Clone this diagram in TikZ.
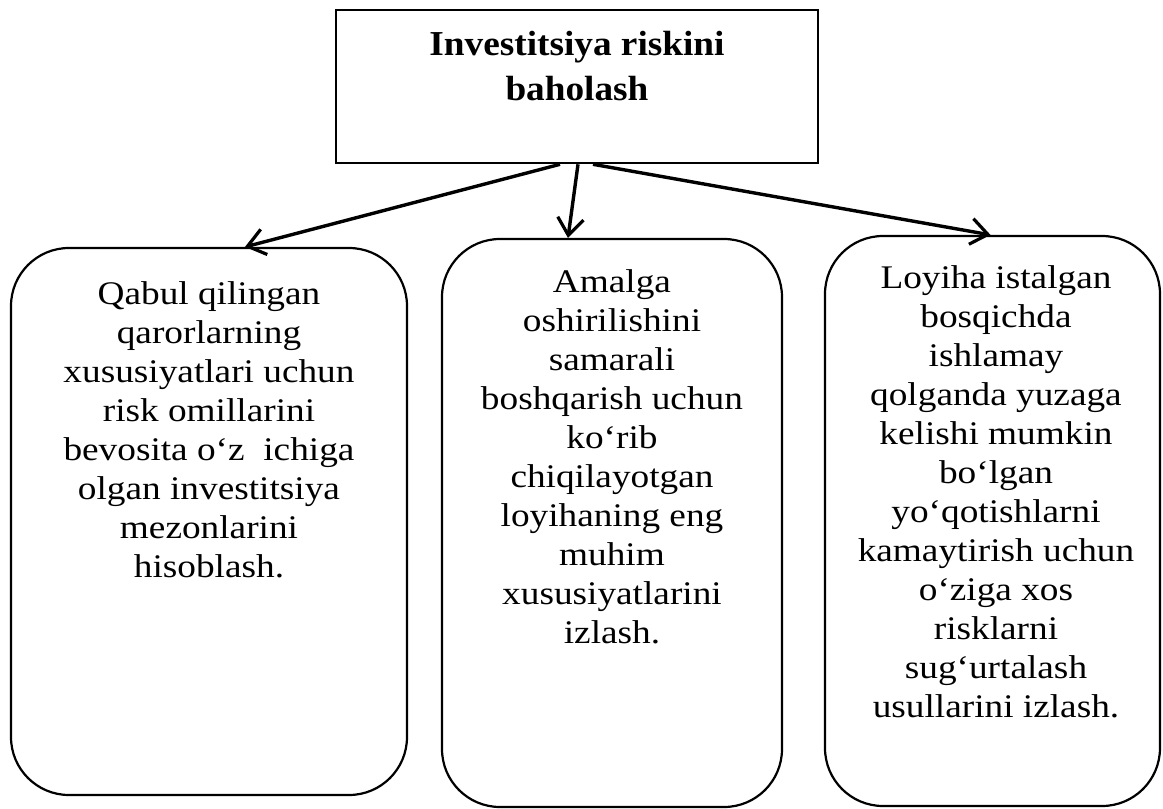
\documentclass[tikz,border=0pt]{standalone}
\usepackage{fontspec}
\setmainfont{Liberation Serif}
\newfontfamily\bodyface[FakeStretch=1.13]{Liberation Serif}
\newfontfamily\headface[FakeStretch=1.065]{Liberation Serif}
\usetikzlibrary{arrows.meta,calc}

\begin{document}
\begin{tikzpicture}[x=1pt,y=-1pt,
  headbox/.style={draw,line width=2.6pt,rectangle,inner sep=0pt,
    minimum width=482pt,minimum height=153pt},
  itembox/.style={draw,line width=2.2pt,rectangle,rounded corners=58pt,
    inner sep=0pt},
  headtext/.style={inner sep=0pt,align=center,anchor=north,
    font=\headface\bfseries\fontsize{35}{45}\selectfont},
  itemtext/.style={inner sep=0pt,align=center,anchor=north,
    font=\bodyface\fontsize{33}{39}\selectfont},
  arr/.style={line width=3.4pt,-{Straight Barb[length=17pt,width=26pt,line width=3.2pt]}}]

  \useasboundingbox (0,0) rectangle (1163,809);

  % heading box
  \node[headbox] (head) at (577,86.5) {};
  \node[headtext] (headt) at (577,31) {Investitsiya riskini\\baholash};

  % three rounded boxes
  \node[itembox,minimum width=396pt,minimum height=547pt] (lbox) at (209,521.5) {};
  \node[itembox,minimum width=340pt,minimum height=568pt] (mbox) at (612,523) {};
  \node[itembox,minimum width=335pt,minimum height=570pt] (rbox) at (992.5,521) {};

  \node[itemtext] (lt) at (209,281.5) {Qabul qilingan\\qarorlarning\\xususiyatlari uchun\\risk omillarini\\bevosita o‘z\ \ ichiga\\olgan investitsiya\\mezonlarini\\hisoblash.};
  \node[itemtext] (mt) at (612,269.5) {Amalga\\oshirilishini\\samarali\\boshqarish uchun\\ko‘rib\\chiqilayotgan\\loyihaning eng\\muhim\\xususiyatlarini\\izlash.};
  \node[itemtext] (rt) at (996,265.5) {Loyiha istalgan\\bosqichda\\ishlamay\\qolganda yuzaga\\kelishi mumkin\\bo‘lgan\\yo‘qotishlarni\\kamaytirish uchun\\o‘ziga xos\\risklarni\\sug‘urtalash\\usullarini izlash.};

  % connectors
  \draw[arr] ($(head.south)+(-17,0)$) -- ($(lbox.north)+(36,0)$);
  \draw[arr] ($(head.south)+(1,0)$) -- ($(mbox.north)+(-44,0)$);
  \draw[arr] ($(head.south)+(16,0)$) -- ($(rbox.north)+(-2,0)$);
\end{tikzpicture}
\end{document}
